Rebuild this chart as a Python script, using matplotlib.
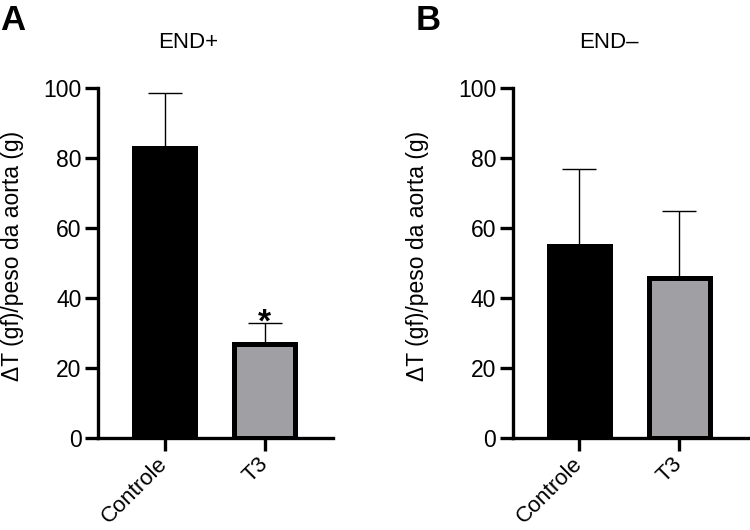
import matplotlib.pyplot as plt
from matplotlib import font_manager

# Values
groups = ['Controle', 'T3']
means_endp = [83.0, 26.8]
sem_endp = [15.6, 6.0]
means_endm = [54.9, 45.7]
sem_endm = [22.1, 19.2]
panel_titles = ['END+', 'END\u2013']
panel_letters = ['A', 'B']
ylabel = '\u0394T (gf)/peso da aorta (g)'

names = {f.name for f in font_manager.fontManager.ttflist}
narrow = 'Liberation Sans Narrow' if 'Liberation Sans Narrow' in names else 'Liberation Sans'
plt.rcParams['font.family'] = ['Liberation Sans', 'DejaVu Sans']

fig = plt.figure(figsize=(7.5, 5.3), dpi=100)
ax_a = fig.add_axes([98 / 750, 1 - 438 / 530, 235 / 750, 350 / 530])
ax_b = fig.add_axes([512.7 / 750, 1 - 438 / 530, 235 / 750, 350 / 530])

colors = ['black', '#a0a0a4']
x = [0, 1]

for ax, means, sems, lab_x in [(ax_a, means_endp, sem_endp, -0.315),
                               (ax_b, means_endm, sem_endm, -0.356)]:
    ax.bar(x, means, width=0.61, color=colors, edgecolor='black',
           linewidth=3.6, zorder=2)
    ax.errorbar(x, means, yerr=[[0, 0], sems], fmt='none', ecolor='black',
                elinewidth=1.0, capsize=11.9, capthick=1.0, zorder=1)
    ax.set_xlim(-0.665, 1.685)
    ax.set_ylim(0, 100)
    ax.set_yticks([0, 20, 40, 60, 80, 100])
    ax.set_xticks(x)
    ax.set_xticklabels(groups, rotation=45, ha='right', va='center',
                       rotation_mode='anchor', fontsize=16)
    ax.tick_params(axis='both', length=9.4, width=2.4, labelsize=16.5,
                   colors='black')
    ax.tick_params(axis='x', labelsize=16, pad=7)
    ax.tick_params(axis='y', pad=2.5)
    for side in ['top', 'right']:
        ax.spines[side].set_visible(False)
    for side in ['left', 'bottom']:
        ax.spines[side].set_linewidth(2.4)
    ax.set_ylabel(ylabel, fontsize=16.5)
    ax.yaxis.set_label_coords(lab_x, 0.52)

# significance mark over T3 in END+
ax_a.annotate('*', xy=(1, means_endp[1] + sem_endp[1]), xytext=(0, -6),
              textcoords='offset points', ha='center', va='baseline',
              fontsize=24, fontweight='bold')

# panel titles and letters
fig.text(188 / 750, 1 - 42 / 530, panel_titles[0], ha='center', va='center',
         fontsize=16, family=[narrow, 'DejaVu Sans'])
fig.text(609 / 750, 1 - 42 / 530, panel_titles[1], ha='center', va='center',
         fontsize=16, family=[narrow, 'DejaVu Sans'])
fig.text(0 / 750, 1 - 4 / 530, panel_letters[0], ha='left', va='top',
         fontsize=25, fontweight='bold', family=[narrow, 'DejaVu Sans'])
fig.text(416 / 750, 1 - 4 / 530, panel_letters[1], ha='left', va='top',
         fontsize=25, fontweight='bold', family=[narrow, 'DejaVu Sans'])

fig.savefig('out.png', dpi=100)
